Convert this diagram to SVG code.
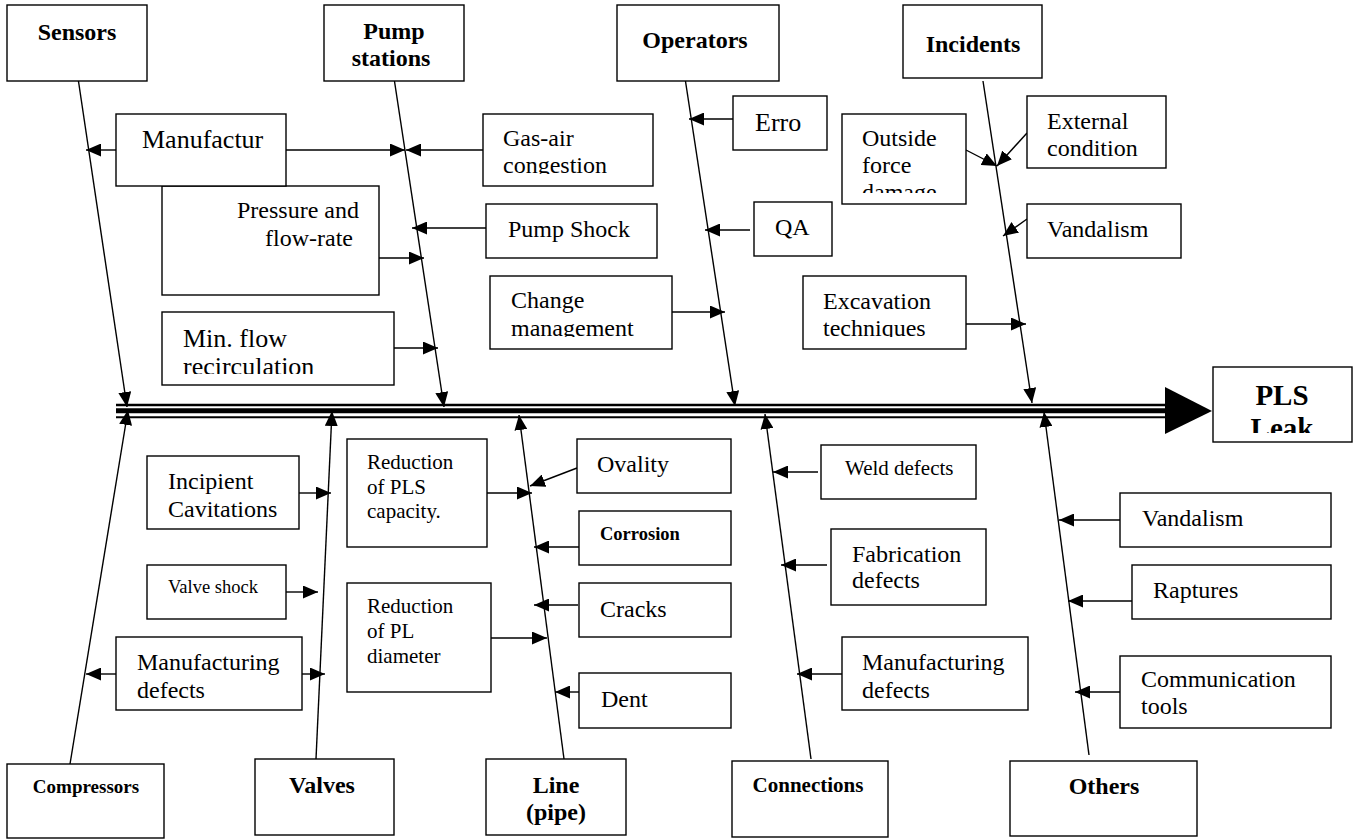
<svg xmlns="http://www.w3.org/2000/svg" width="1354" height="839" viewBox="0 0 1354 839">
<style>
.box{fill:#fff;stroke:#000;stroke-width:1.4}
.t{font-family:"Liberation Serif","Times New Roman",serif;font-size:24px;fill:#000}
.b{font-weight:bold}
.m{text-anchor:middle}
.f26{font-size:26px}
.f29{font-size:29px}
.f21{font-size:21px}
.f19{font-size:19px}
.f18{font-size:18.5px}
.c line{stroke:#000;stroke-width:1.4;marker-end:url(#ah)}
.sp{stroke:#000}
</style>
<defs>
<marker id="ah" markerUnits="userSpaceOnUse" markerWidth="15" markerHeight="13" refX="15" refY="6.5" orient="auto">
<path d="M0,0 L15,6.5 L0,13 z" fill="#000"/>
</marker>
<clipPath id="cMin"><rect x="162" y="312" width="232" height="62"/></clipPath>
<clipPath id="cGas"><rect x="483" y="114" width="170" height="60"/></clipPath>
<clipPath id="cChg"><rect x="490" y="276" width="182" height="61"/></clipPath>
<clipPath id="cOut"><rect x="842" y="114" width="124" height="79"/></clipPath>
<clipPath id="cExc"><rect x="803" y="276" width="163" height="61"/></clipPath>
<clipPath id="cPls"><rect x="1213" y="367" width="139" height="66"/></clipPath>
</defs>
<rect width="1354" height="839" fill="#fff"/>

<g id="connectors">
<g id="spine">
<line class="sp" x1="116" y1="405" x2="1167" y2="405" stroke-width="2.5"/>
<line class="sp" x1="116" y1="410.8" x2="1167" y2="410.8" stroke-width="5"/>
<line class="sp" x1="116" y1="417.2" x2="1167" y2="417.2" stroke-width="2"/>
<polygon points="1165,387 1212,411 1165,434" fill="#000"/>
</g>
<g class="c">
<line x1="78" y1="78" x2="127" y2="407"/>
<line x1="394" y1="78" x2="444" y2="407"/>
<line x1="685" y1="78" x2="735" y2="406"/>
<line x1="983" y1="81" x2="1032" y2="403"/>
<line x1="70" y1="764" x2="128" y2="410"/>
<line x1="316" y1="759" x2="332" y2="411"/>
<line x1="564" y1="759" x2="519" y2="415"/>
<line x1="811" y1="759" x2="765" y2="414"/>
<line x1="1089" y1="755" x2="1044" y2="412"/>

<line x1="116" y1="150" x2="86" y2="150"/>
<line x1="286" y1="150" x2="405" y2="150"/>
<line x1="483" y1="150" x2="406" y2="150"/>
<line x1="486" y1="228" x2="412" y2="228"/>
<line x1="379" y1="258" x2="424" y2="258"/>
<line x1="394" y1="348" x2="438" y2="348"/>
<line x1="733" y1="119" x2="689" y2="119"/>
<line x1="750" y1="230" x2="705" y2="230"/>
<line x1="672" y1="312" x2="725" y2="312"/>
<line x1="966" y1="150" x2="997" y2="166"/>
<line x1="1027" y1="133" x2="997" y2="166"/>
<line x1="1027" y1="219" x2="1003" y2="236"/>
<line x1="966" y1="324" x2="1026" y2="324"/>

<line x1="299" y1="493" x2="331" y2="493"/>
<line x1="286" y1="592" x2="318" y2="592"/>
<line x1="298" y1="674" x2="325" y2="674"/>
<line x1="116" y1="674" x2="86" y2="674"/>
<line x1="487" y1="493" x2="532" y2="493"/>
<line x1="577" y1="468" x2="530" y2="486"/>
<line x1="579" y1="547" x2="534" y2="547"/>
<line x1="578" y1="605" x2="534" y2="605"/>
<line x1="491" y1="638" x2="547" y2="638"/>
<line x1="579" y1="692" x2="555" y2="692"/>
<line x1="818" y1="472" x2="773" y2="472"/>
<line x1="827" y1="565" x2="781" y2="565"/>
<line x1="842" y1="674" x2="797" y2="674"/>
<line x1="1120" y1="520" x2="1059" y2="520"/>
<line x1="1132" y1="601" x2="1068" y2="601"/>
<line x1="1120" y1="692" x2="1075" y2="692"/>
</g>
</g>

<g id="sensors"><rect class="box" x="7" y="5" width="140" height="76"/><text class="t b m" x="77" y="40">Sensors</text></g>
<g id="pump-stations"><rect class="box" x="324" y="5" width="140" height="76"/><text class="t b m" x="394" y="39">Pump</text><text class="t b m" x="391" y="66">stations</text></g>
<g id="operators"><rect class="box" x="617" y="5" width="162" height="76"/><text class="t b m" x="695" y="48">Operators</text></g>
<g id="incidents"><rect class="box" x="903" y="5" width="139" height="73"/><text class="t b m" x="973" y="52">Incidents</text></g>

<g id="pressure"><rect class="box" x="162" y="186" width="217" height="109"/><text class="t" x="237" y="218">Pressure and</text><text class="t" x="265" y="246">flow-rate</text></g>
<g id="manufactur"><rect class="box" x="116" y="114" width="170" height="72"/><text class="t f26" x="142" y="148">Manufactur</text></g>
<g id="min-flow"><rect class="box" x="162" y="312" width="232" height="73"/><g clip-path="url(#cMin)"><text class="t f26" x="183" y="347">Min. flow</text><text class="t f26" x="183" y="375">recirculation</text></g></g>
<g id="gas-air"><rect class="box" x="483" y="114" width="170" height="72"/><g clip-path="url(#cGas)"><text class="t" x="503" y="146">Gas-air</text><text class="t" x="503" y="173">congestion</text></g></g>
<g id="pump-shock"><rect class="box" x="486" y="204" width="171" height="54"/><text class="t" x="508" y="237">Pump Shock</text></g>
<g id="erro"><rect class="box" x="733" y="96" width="94" height="54"/><text class="t f26" x="755" y="131">Erro</text></g>
<g id="qa"><rect class="box" x="754" y="202" width="78" height="54"/><text class="t" x="775" y="235">QA</text></g>
<g id="change-management"><rect class="box" x="490" y="276" width="182" height="73"/><g clip-path="url(#cChg)"><text class="t" x="511" y="308">Change</text><text class="t" x="511" y="336">management</text></g></g>
<g id="outside-force"><rect class="box" x="842" y="114" width="124" height="90"/><g clip-path="url(#cOut)"><text class="t" x="862" y="146">Outside</text><text class="t" x="862" y="173">force</text><text class="t" x="862" y="200">damage</text></g></g>
<g id="external-condition"><rect class="box" x="1027" y="96" width="139" height="72"/><text class="t" x="1047" y="129">External</text><text class="t" x="1047" y="156">condition</text></g>
<g id="vandalism-top"><rect class="box" x="1027" y="204" width="154" height="54"/><text class="t" x="1047" y="237">Vandalism</text></g>
<g id="excavation"><rect class="box" x="803" y="276" width="163" height="73"/><g clip-path="url(#cExc)"><text class="t" x="823" y="309">Excavation</text><text class="t" x="823" y="336">techniques</text></g></g>
<g id="pls-leak"><rect class="box" x="1213" y="367" width="139" height="75"/><g clip-path="url(#cPls)"><text class="t b m f29" x="1282" y="405">PLS</text><text class="t b m f29" x="1282" y="438">Leak</text></g></g>

<g id="compressors"><rect class="box" x="7" y="764" width="157" height="74"/><text class="t b m f19" x="86" y="793">Compressors</text></g>
<g id="valves"><rect class="box" x="255" y="759" width="139" height="76"/><text class="t b m" x="322" y="793">Valves</text></g>
<g id="line-pipe"><rect class="box" x="486" y="759" width="140" height="76"/><text class="t b m" x="556" y="793">Line</text><text class="t b m" x="556" y="820">(pipe)</text></g>
<g id="connections"><rect class="box" x="732" y="761" width="156" height="76"/><text class="t b m f21" x="808" y="792">Connections</text></g>
<g id="others"><rect class="box" x="1010" y="761" width="187" height="75"/><text class="t b m" x="1104" y="794">Others</text></g>

<g id="incipient"><rect class="box" x="147" y="456" width="152" height="73"/><text class="t" x="168" y="489">Incipient</text><text class="t" x="168" y="517">Cavitations</text></g>
<g id="valve-shock"><rect class="box" x="147" y="565" width="139" height="54"/><text class="t f18" x="168" y="593">Valve shock</text></g>
<g id="manufacturing-left"><rect class="box" x="116" y="637" width="186" height="73"/><text class="t" x="137" y="670">Manufacturing</text><text class="t" x="137" y="698">defects</text></g>
<g id="reduction-pls"><rect class="box" x="347" y="439" width="140" height="108"/><text class="t f21" x="367" y="469">Reduction</text><text class="t f21" x="367" y="494">of PLS</text><text class="t f21" x="367" y="518">capacity.</text></g>
<g id="reduction-pl"><rect class="box" x="347" y="583" width="144" height="109"/><text class="t f21" x="367" y="613">Reduction</text><text class="t f21" x="367" y="638">of PL</text><text class="t f21" x="367" y="663">diameter</text></g>
<g id="ovality"><rect class="box" x="577" y="439" width="154" height="54"/><text class="t" x="597" y="472">Ovality</text></g>
<g id="corrosion"><rect class="box" x="579" y="511" width="152" height="54"/><text class="t b f18" x="600" y="540">Corrosion</text></g>
<g id="cracks"><rect class="box" x="579" y="583" width="152" height="54"/><text class="t" x="600" y="617">Cracks</text></g>
<g id="dent"><rect class="box" x="579" y="673" width="152" height="55"/><text class="t" x="601" y="707">Dent</text></g>
<g id="weld-defects"><rect class="box" x="821" y="445" width="155" height="54"/><text class="t f21" x="845" y="475">Weld defects</text></g>
<g id="fabrication-defects"><rect class="box" x="831" y="529" width="155" height="76"/><text class="t" x="852" y="562">Fabrication</text><text class="t" x="852" y="588">defects</text></g>
<g id="manufacturing-right"><rect class="box" x="842" y="637" width="186" height="73"/><text class="t" x="862" y="670">Manufacturing</text><text class="t" x="862" y="698">defects</text></g>
<g id="vandalism-right"><rect class="box" x="1120" y="493" width="211" height="54"/><text class="t" x="1142" y="526">Vandalism</text></g>
<g id="raptures"><rect class="box" x="1132" y="565" width="199" height="54"/><text class="t" x="1153" y="598">Raptures</text></g>
<g id="communication-tools"><rect class="box" x="1120" y="656" width="211" height="72"/><text class="t" x="1141" y="687">Communication</text><text class="t" x="1141" y="714">tools</text></g>
</svg>
